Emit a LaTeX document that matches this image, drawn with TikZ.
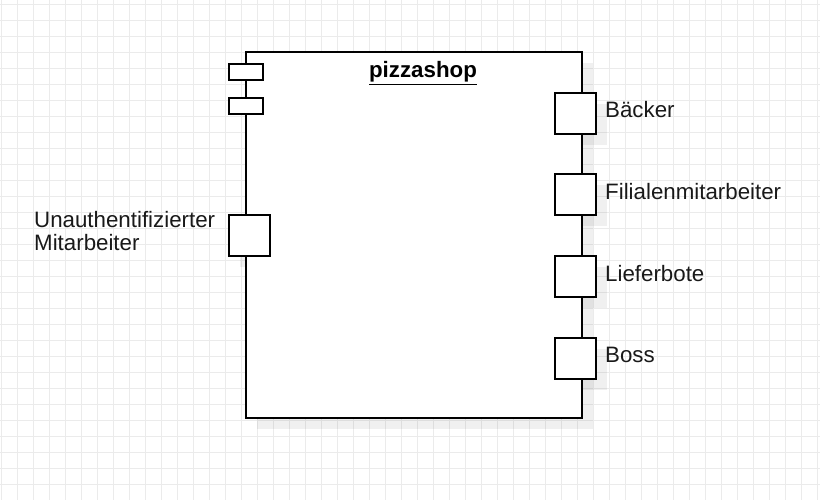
\documentclass[tikz,border=0pt]{standalone}
\usepackage{fontspec}
\setmainfont{Liberation Sans}
\begin{document}
\begin{tikzpicture}[x=1pt,y=-1pt,
  gridline/.style={draw=black!8,line width=0.9pt},
  shade/.style={fill=black,opacity=0.06,draw=none},
  box/.style={draw=black,line width=2pt,fill=white,inner sep=0pt,outer sep=0pt},
  portbox/.style={box,minimum width=41pt,minimum height=41pt},
  iconbox/.style={box,minimum width=34pt,minimum height=16pt},
  lbl/.style={font=\fontsize{22.3}{23}\selectfont,inner sep=0pt,anchor=west,text=black!90},
]
\useasboundingbox (0,0) rectangle (820,500);
\fill[white] (0,0) rectangle (820,500);
\foreach \i in {0,...,51} \draw[gridline] ({1+16*\i},0) -- ({1+16*\i},500);
\foreach \j in {0,...,31} \draw[gridline] (0,{4+16*\j}) -- (820,{4+16*\j});
% shadows
\fill[shade] (257,63) rectangle (593,429);
\foreach \t in {93,174,256,338} \fill[shade] (566,\t+11) rectangle (607,\t+52);
\fill[shade] (240,226) rectangle (281,267);
% main box
\node[box,minimum width=336pt,minimum height=366pt,anchor=north west] (shop) at (246,52) {};
\node[font=\fontsize{22.3}{23}\selectfont\bfseries,inner sep=0pt] (title) at (423,73) {\underline{pizzashop}};
% component icons
\node[iconbox] (ic1) at (246,72) {};
\node[iconbox] (ic2) at (246,106) {};
% ports
\node[portbox] (pl) at (249.5,235.5) {};
\node[portbox] (p1) at (575.5,113.5) {};
\node[portbox] (p2) at (575.5,194.5) {};
\node[portbox] (p3) at (575.5,276.5) {};
\node[portbox] (p4) at (575.5,358) {};
% labels
\node[lbl] (l1) at (605,110) {Bäcker};
\node[lbl] (l2) at (605,192) {Filialenmitarbeiter};
\node[lbl] (l3) at (605,274) {Lieferbote};
\node[lbl] (l4) at (605,355) {Boss};
\node[lbl,align=left] (ll) at (34,231) {Unauthentifizierter\\Mitarbeiter};
\end{tikzpicture}
\end{document}
